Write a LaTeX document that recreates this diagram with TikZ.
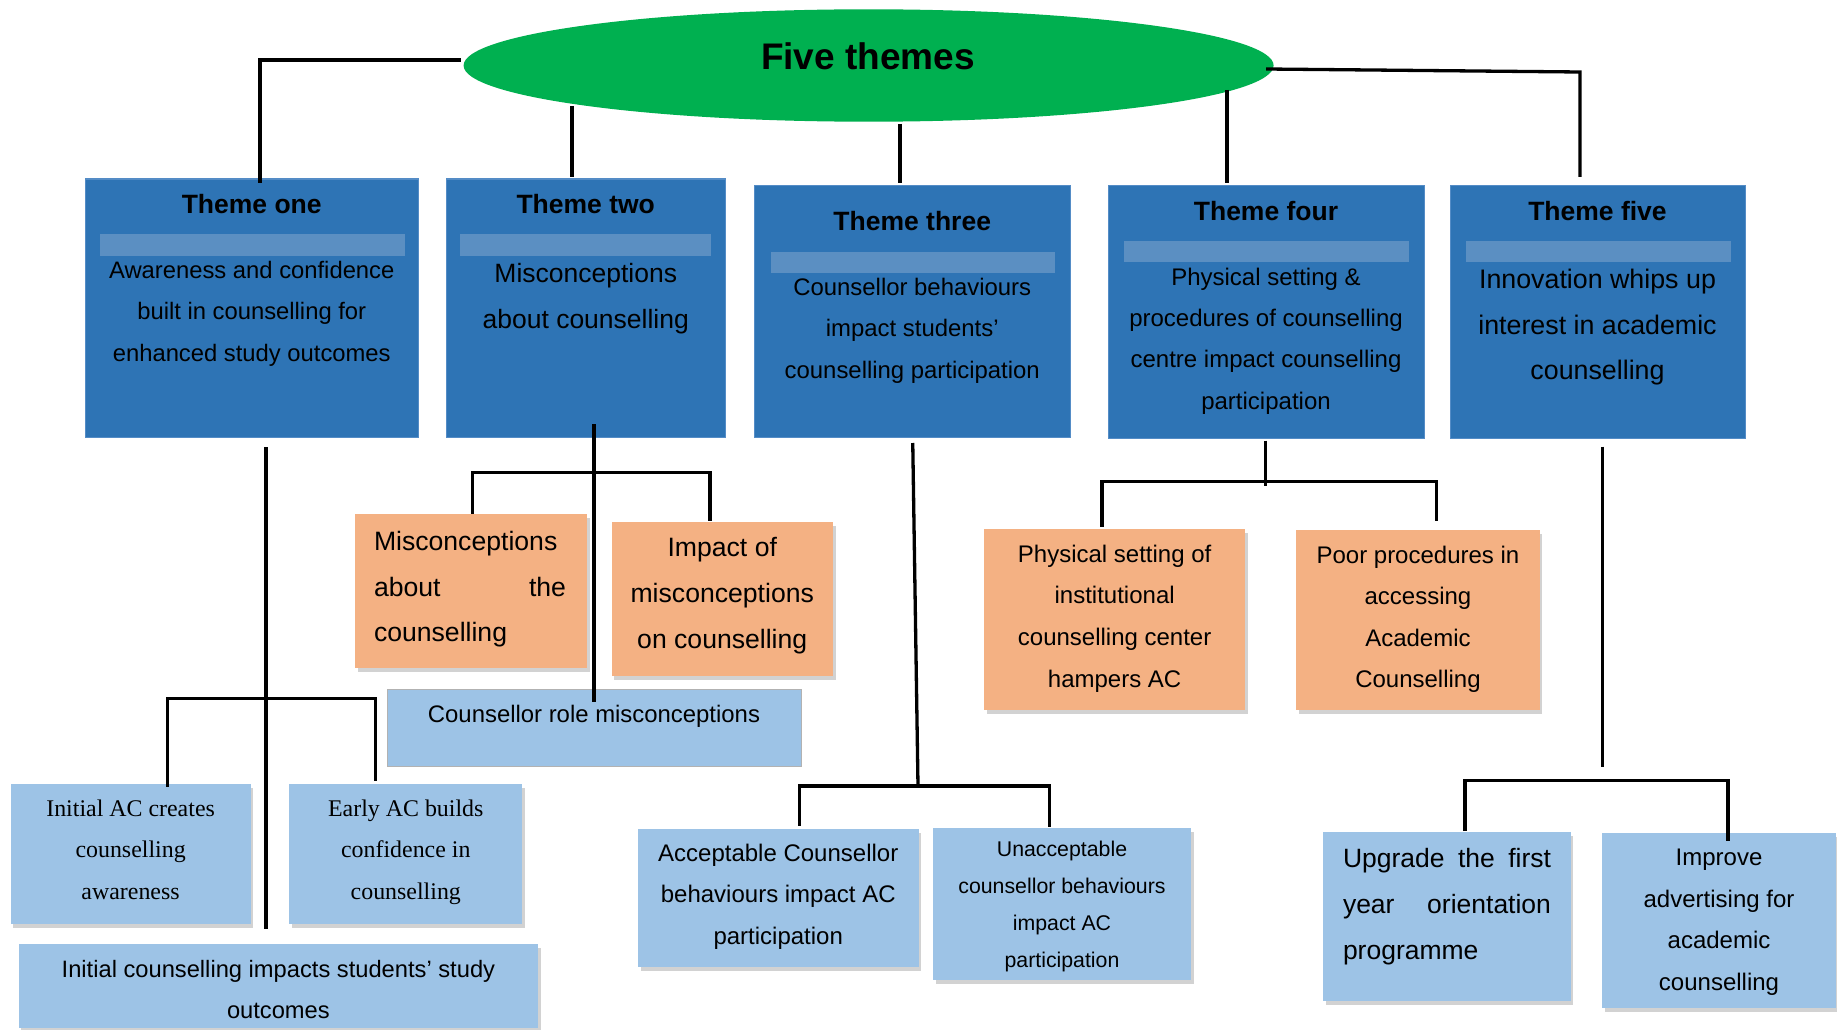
\documentclass[tikz,border=0pt]{standalone}
\usepackage{fontspec}
\setmainfont{Liberation Sans}
\newfontfamily\timesfont{Liberation Serif}
\usetikzlibrary{shapes.geometric,shadows,calc}

\definecolor{rootgreen}{RGB}{0,176,80}
\definecolor{themeblue}{RGB}{46,116,181}
\definecolor{themeedge}{RGB}{84,140,198}
\definecolor{bandblue}{RGB}{91,143,194}
\definecolor{leafblue}{RGB}{157,195,230}
\definecolor{leaforange}{RGB}{244,177,131}

% text nodes are placed by the baseline of their last line
\tikzset{
  conn/.style={line width=3.3pt, black},
  themebox/.style={draw=themeedge, line width=1pt, fill=themeblue, anchor=north west,
                   inner sep=0pt, outer sep=0pt},
  band/.style={fill=bandblue, draw=none, anchor=north west, inner sep=0pt, outer sep=0pt},
  leaf/.style={fill=leafblue, anchor=north west, inner sep=0pt, outer sep=0pt,
               drop shadow={shadow xshift=2.5pt, shadow yshift=-4pt, opacity=0.35}},
  orangebox/.style={leaf, fill=leaforange},
  txt/.style={anchor=base, align=center, inner sep=0pt, outer sep=0pt, text=black},
  title/.style={txt, font=\bfseries\fontsize{26.5}{30}\selectfont},
}

\begin{document}
\begin{tikzpicture}[x=1pt, y=-1pt]
\useasboundingbox (0,0) rectangle (1837,1030);
\fill[white] (0,0) rectangle (1837,1030);

% ---------- root ----------
\node[ellipse, fill=rootgreen, minimum width=810pt, minimum height=112.4pt, inner sep=0pt]
  (root) at (868.6,65.5) {};
\node[txt, font=\bfseries\fontsize{37}{40}\selectfont] (roottext) at (868,70) {Five themes};

% ---------- themes ----------
\node[themebox, minimum width=332.5pt, minimum height=258.5pt] (t1) at (85.5,179) {};
\node[band, minimum width=305pt, minimum height=22pt] (t1band) at (100,234) {};
\node[title] (t1title) at (251.75,213) {Theme one};
\node[txt, font=\fontsize{23.8}{41.5}\selectfont] (t1text) at (251.75,361)
  {Awareness and confidence\\built in counselling for\\enhanced study outcomes};

\node[themebox, minimum width=279.5pt, minimum height=258.5pt] (t2) at (446,179) {};
\node[band, minimum width=251pt, minimum height=22pt] (t2band) at (460,234) {};
\node[title] (t2title) at (585.75,213) {Theme two};
\node[txt, font=\fontsize{26.5}{46}\selectfont] (t2text) at (585.75,328)
  {Misconceptions\\about counselling};

\node[themebox, minimum width=315.5pt, minimum height=252pt] (t3) at (754.5,185.5) {};
\node[band, minimum width=284pt, minimum height=21pt] (t3band) at (770.5,252) {};
\node[title] (t3title) at (912.25,230) {Theme three};
\node[txt, font=\fontsize{23.9}{41.5}\selectfont] (t3text) at (912.25,378)
  {Counsellor behaviours\\impact students’\\counselling participation};

\node[themebox, minimum width=316pt, minimum height=252.5pt] (t4) at (1108,185.5) {};
\node[band, minimum width=285.5pt, minimum height=21pt] (t4band) at (1123.5,241) {};
\node[title] (t4title) at (1266,220) {Theme four};
\node[txt, font=\fontsize{24}{41.3}\selectfont] (t4text) at (1266,409)
  {Physical setting \&\\procedures of counselling\\centre impact counselling\\participation};

\node[themebox, minimum width=295pt, minimum height=252.5pt] (t5) at (1450,185.5) {};
\node[band, minimum width=265.5pt, minimum height=21pt] (t5band) at (1465.5,241) {};
\node[title] (t5title) at (1597.5,220) {Theme five};
\node[txt, font=\fontsize{26.8}{45.5}\selectfont] (t5text) at (1597.5,379.5)
  {Innovation whips up\\interest in academic\\counselling};

% ---------- second level ----------
\node[orangebox, minimum width=232pt, minimum height=153.5pt] (o1) at (355,514) {};
\node[txt, anchor=base west, align=left, font=\fontsize{26.6}{45.5}\selectfont] (o1text) at (374,641.5)
  {Misconceptions\\\makebox[192pt][s]{about the}\\counselling};

\node[orangebox, minimum width=221.5pt, minimum height=154pt] (o2) at (611.5,522) {};
\node[txt, font=\fontsize{26.6}{46}\selectfont] (o2text) at (722.25,648.5)
  {Impact of\\misconceptions\\on counselling};

\node[fill=leafblue, draw=black!30, line width=1pt, anchor=north west, inner sep=0pt, outer sep=0pt,
      minimum width=414pt, minimum height=77.2pt] (cr) at (387,689.4) {};
\node[txt, font=\fontsize{23.9}{30}\selectfont] (crtext) at (594,722.5)
  {Counsellor role misconceptions};

\node[orangebox, minimum width=260.7pt, minimum height=180.6pt] (phys) at (984.3,529.2) {};
\node[txt, font=\fontsize{24}{41.7}\selectfont] (phystext) at (1114.65,687.1)
  {Physical setting of\\institutional\\counselling center\\hampers AC};

\node[orangebox, minimum width=243.3pt, minimum height=179.8pt] (poor) at (1296.3,530) {};
\node[txt, font=\fontsize{24}{41.5}\selectfont] (poortext) at (1417.95,687.5)
  {Poor procedures in\\accessing\\Academic\\Counselling};

% ---------- third level ----------
\node[leaf, minimum width=240pt, minimum height=140pt] (iac) at (10.6,783.5) {};
\node[txt, font=\timesfont\fontsize{23.9}{41.4}\selectfont] (iactext) at (130.6,899.3)
  {Initial AC creates\\counselling\\awareness};

\node[leaf, minimum width=233pt, minimum height=140pt] (eac) at (289.3,783.5) {};
\node[txt, font=\timesfont\fontsize{23.9}{41.4}\selectfont] (eactext) at (405.8,899.3)
  {Early AC builds\\confidence in\\counselling};

\node[leaf, minimum width=519.2pt, minimum height=84pt] (ici) at (18.8,944) {};
\node[txt, font=\fontsize{23.7}{41}\selectfont] (icitext) at (278.4,1018.3)
  {Initial counselling impacts students’ study\\outcomes};

\node[leaf, minimum width=280.5pt, minimum height=137.7pt] (acc) at (638,829) {};
\node[txt, font=\fontsize{24}{41.5}\selectfont] (acctext) at (778.25,944)
  {Acceptable Counsellor\\behaviours impact AC\\participation};

\node[leaf, minimum width=258pt, minimum height=152.5pt] (una) at (933,827.5) {};
\node[txt, font=\fontsize{21.3}{37}\selectfont] (unatext) at (1062,967.5)
  {Unacceptable\\counsellor behaviours\\impact AC\\participation};

\node[leaf, minimum width=247.5pt, minimum height=168.7pt] (upg) at (1323,832.3) {};
\node[txt, anchor=base west, align=left, font=\fontsize{26.5}{46.3}\selectfont] (upgtext) at (1343,959.6)
  {\makebox[208pt][s]{Upgrade the first}\\\makebox[208pt][s]{year orientation}\\programme};

\node[leaf, minimum width=234pt, minimum height=175pt] (imp) at (1602,833.3) {};
\node[txt, font=\fontsize{24}{41.5}\selectfont] (imptext) at (1719,990)
  {Improve\\advertising for\\academic\\counselling};

% ---------- connectors: root to themes ----------
\draw[conn] ($(root.west)+(-2.6,-5.5)$) -| ($(t1.north)+(8.25,4)$);
\draw[conn] ($(root.center)+(-296.6,40.5)$) -- ($(t2.north)+(-13.75,-2)$);
\draw[conn] ($(root.center)+(31.4,58.5)$) -- ($(t3.north)+(-12.25,-2.5)$);
\draw[conn] ($(root.center)+(358.4,24.5)$) -- ($(t4.north)+(-39,-2.5)$);
\draw[conn] ($(root.east)+(-7.6,3.5)$) -- ($(t5.north)+(-17.5,-113.5)$)
            -- ($(t5.north)+(-17.5,-8.5)$);

% ---------- connectors: theme one ----------
\coordinate (j1) at (266,698.5);
\draw[conn] ($(t1.south)+(14.25,9.5)$) -- ($(ici.north)+(-12.4,-15)$);
\draw[conn] ($(iac.north)+(36.7,3)$) |- (j1) -| ($(eac.north)+(-30.2,-3)$);

% ---------- connectors: theme two ----------
\coordinate (j2) at (594,472.7);
\draw[conn] ($(t2.south)+(8.25,-13.5)$) -- ($(cr.north)+(0,12.6)$);
\draw[conn] ($(o1.north)+(1.4,-0.5)$) |- (j2) -| ($(o2.north)+(-12.25,-1)$);

% ---------- connectors: theme three ----------
\coordinate (j3) at (918,786);
\draw[conn] ($(t3.south)+(0.5,5.5)$) -- (j3);
\draw[conn] ($(acc.north)+(21,-3.4)$) |- (j3) -| ($(una.north)+(-12.6,-0.7)$);

% ---------- connectors: theme four ----------
\coordinate (j4) at (1265.2,481.5);
\draw[conn] ($(t4.south)+(-0.8,2.7)$) -- ($(j4)+(0,4.5)$);
\draw[conn] ($(phys.north)+(-12.65,-2.7)$) |- (j4) -| ($(poor.north)+(18.75,-9)$);

% ---------- connectors: theme five ----------
\coordinate (j5) at (1602.3,780.5);
\draw[conn] ($(t5.south)+(4.8,8.7)$) -- ($(j5)+(0,-14)$);
\draw[conn] ($(upg.north)+(18.25,-1.3)$) |- (j5) -| ($(imp.north)+(9,7.4)$);
\end{tikzpicture}
\end{document}
